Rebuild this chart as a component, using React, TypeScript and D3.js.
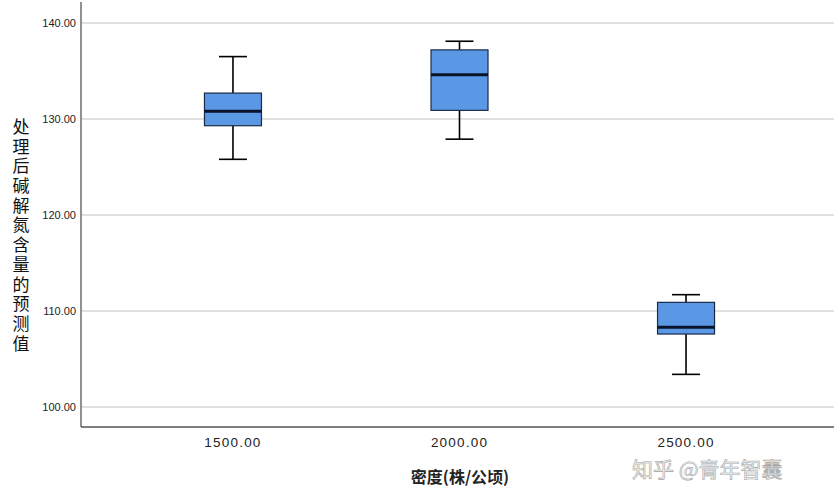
import React from "react";
import * as d3 from "d3";

const categories = ["1500.00", "2000.00", "2500.00"];
const whiskerLow = [125.8, 127.9, 103.4];
const q1 = [129.3, 130.9, 107.6];
const median = [130.8, 134.6, 108.3];
const q3 = [132.7, 137.2, 110.9];
const whiskerHigh = [136.5, 138.1, 111.7];
const yTicks = [100, 110, 120, 130, 140];
const yTitle = "处理后碱解氮含量的预测值";
const xTitle = "密度(株/公顷)";

const W = 834;
const H = 494;
const left = 81;
const right = 834;
const top = 2;
const bottom = 427;

export default function App() {
  const y = d3.scaleLinear().domain([100, 140]).range([407, 23]);
  const x = d3.scalePoint<string>().domain(categories).range([left + 2, right + 2]).padding(0.662);
  const boxW = 57;
  const capW = 28;
  return (
    <svg width={W} height={H} style={{ position: "absolute", left: 0, top: 0, background: "#fff" }}>
      <rect x={0} y={0} width={W} height={H} fill="#fff" />
      {yTicks.map((t) => (
        <g key={t}>
          <line x1={left} x2={right} y1={y(t)} y2={y(t)} stroke="#c4c4c4" strokeWidth={1.2} />
          <text x={76} y={y(t) + 4} textAnchor="end" fontFamily="Liberation Sans, Arial, sans-serif" fontSize={11} fill="#222">
            {d3.format(".2f")(t)}
          </text>
        </g>
      ))}
      <line x1={left} x2={left} y1={top} y2={bottom} stroke="#555" strokeWidth={1.3} />
      <line x1={left} x2={right} y1={bottom} y2={bottom} stroke="#555" strokeWidth={1.3} />
      {categories.map((c, i) => {
        const cx = x(c)!;
        return (
          <g key={c}>
            <line x1={cx} x2={cx} y1={y(whiskerHigh[i])} y2={y(q3[i])} stroke="#000" strokeWidth={1.6} />
            <line x1={cx} x2={cx} y1={y(q1[i])} y2={y(whiskerLow[i])} stroke="#000" strokeWidth={1.6} />
            <line x1={cx - capW / 2} x2={cx + capW / 2} y1={y(whiskerHigh[i])} y2={y(whiskerHigh[i])} stroke="#000" strokeWidth={1.6} />
            <line x1={cx - capW / 2} x2={cx + capW / 2} y1={y(whiskerLow[i])} y2={y(whiskerLow[i])} stroke="#000" strokeWidth={1.6} />
            <rect x={cx - boxW / 2} y={y(q3[i])} width={boxW} height={y(q1[i]) - y(q3[i])} fill="#5a97e5" stroke="#1b2b45" strokeWidth={1.2} />
            <line x1={cx - boxW / 2} x2={cx + boxW / 2} y1={y(median[i])} y2={y(median[i])} stroke="#0a1428" strokeWidth={3} />
            <text x={cx} y={447} textAnchor="middle" fontFamily="Liberation Sans, Arial, sans-serif" fontSize={13.5} letterSpacing={1.2} fill="#222">
              {c}
            </text>
          </g>
        );
      })}
      <text x={460} y={483} textAnchor="middle" fontFamily="Noto Sans CJK SC, sans-serif" fontSize={16} fontWeight="bold" fill="#222">
        {xTitle}
      </text>
      <text
        x={21}
        y={118}
        fontFamily="Noto Sans CJK SC, sans-serif"
        fontSize={17}
        letterSpacing={2.7}
        fill="#111"
        style={{ writingMode: "vertical-rl" }}
      >
        {yTitle}
      </text>
      <text x={632} y={477} fontFamily="Noto Sans CJK SC, sans-serif" fontSize={21} fill="#f4f4f4" stroke="#9a9a9a" strokeWidth={0.6} opacity={0.9}>
        知乎 @青年智囊
      </text>
    </svg>
  );
}
